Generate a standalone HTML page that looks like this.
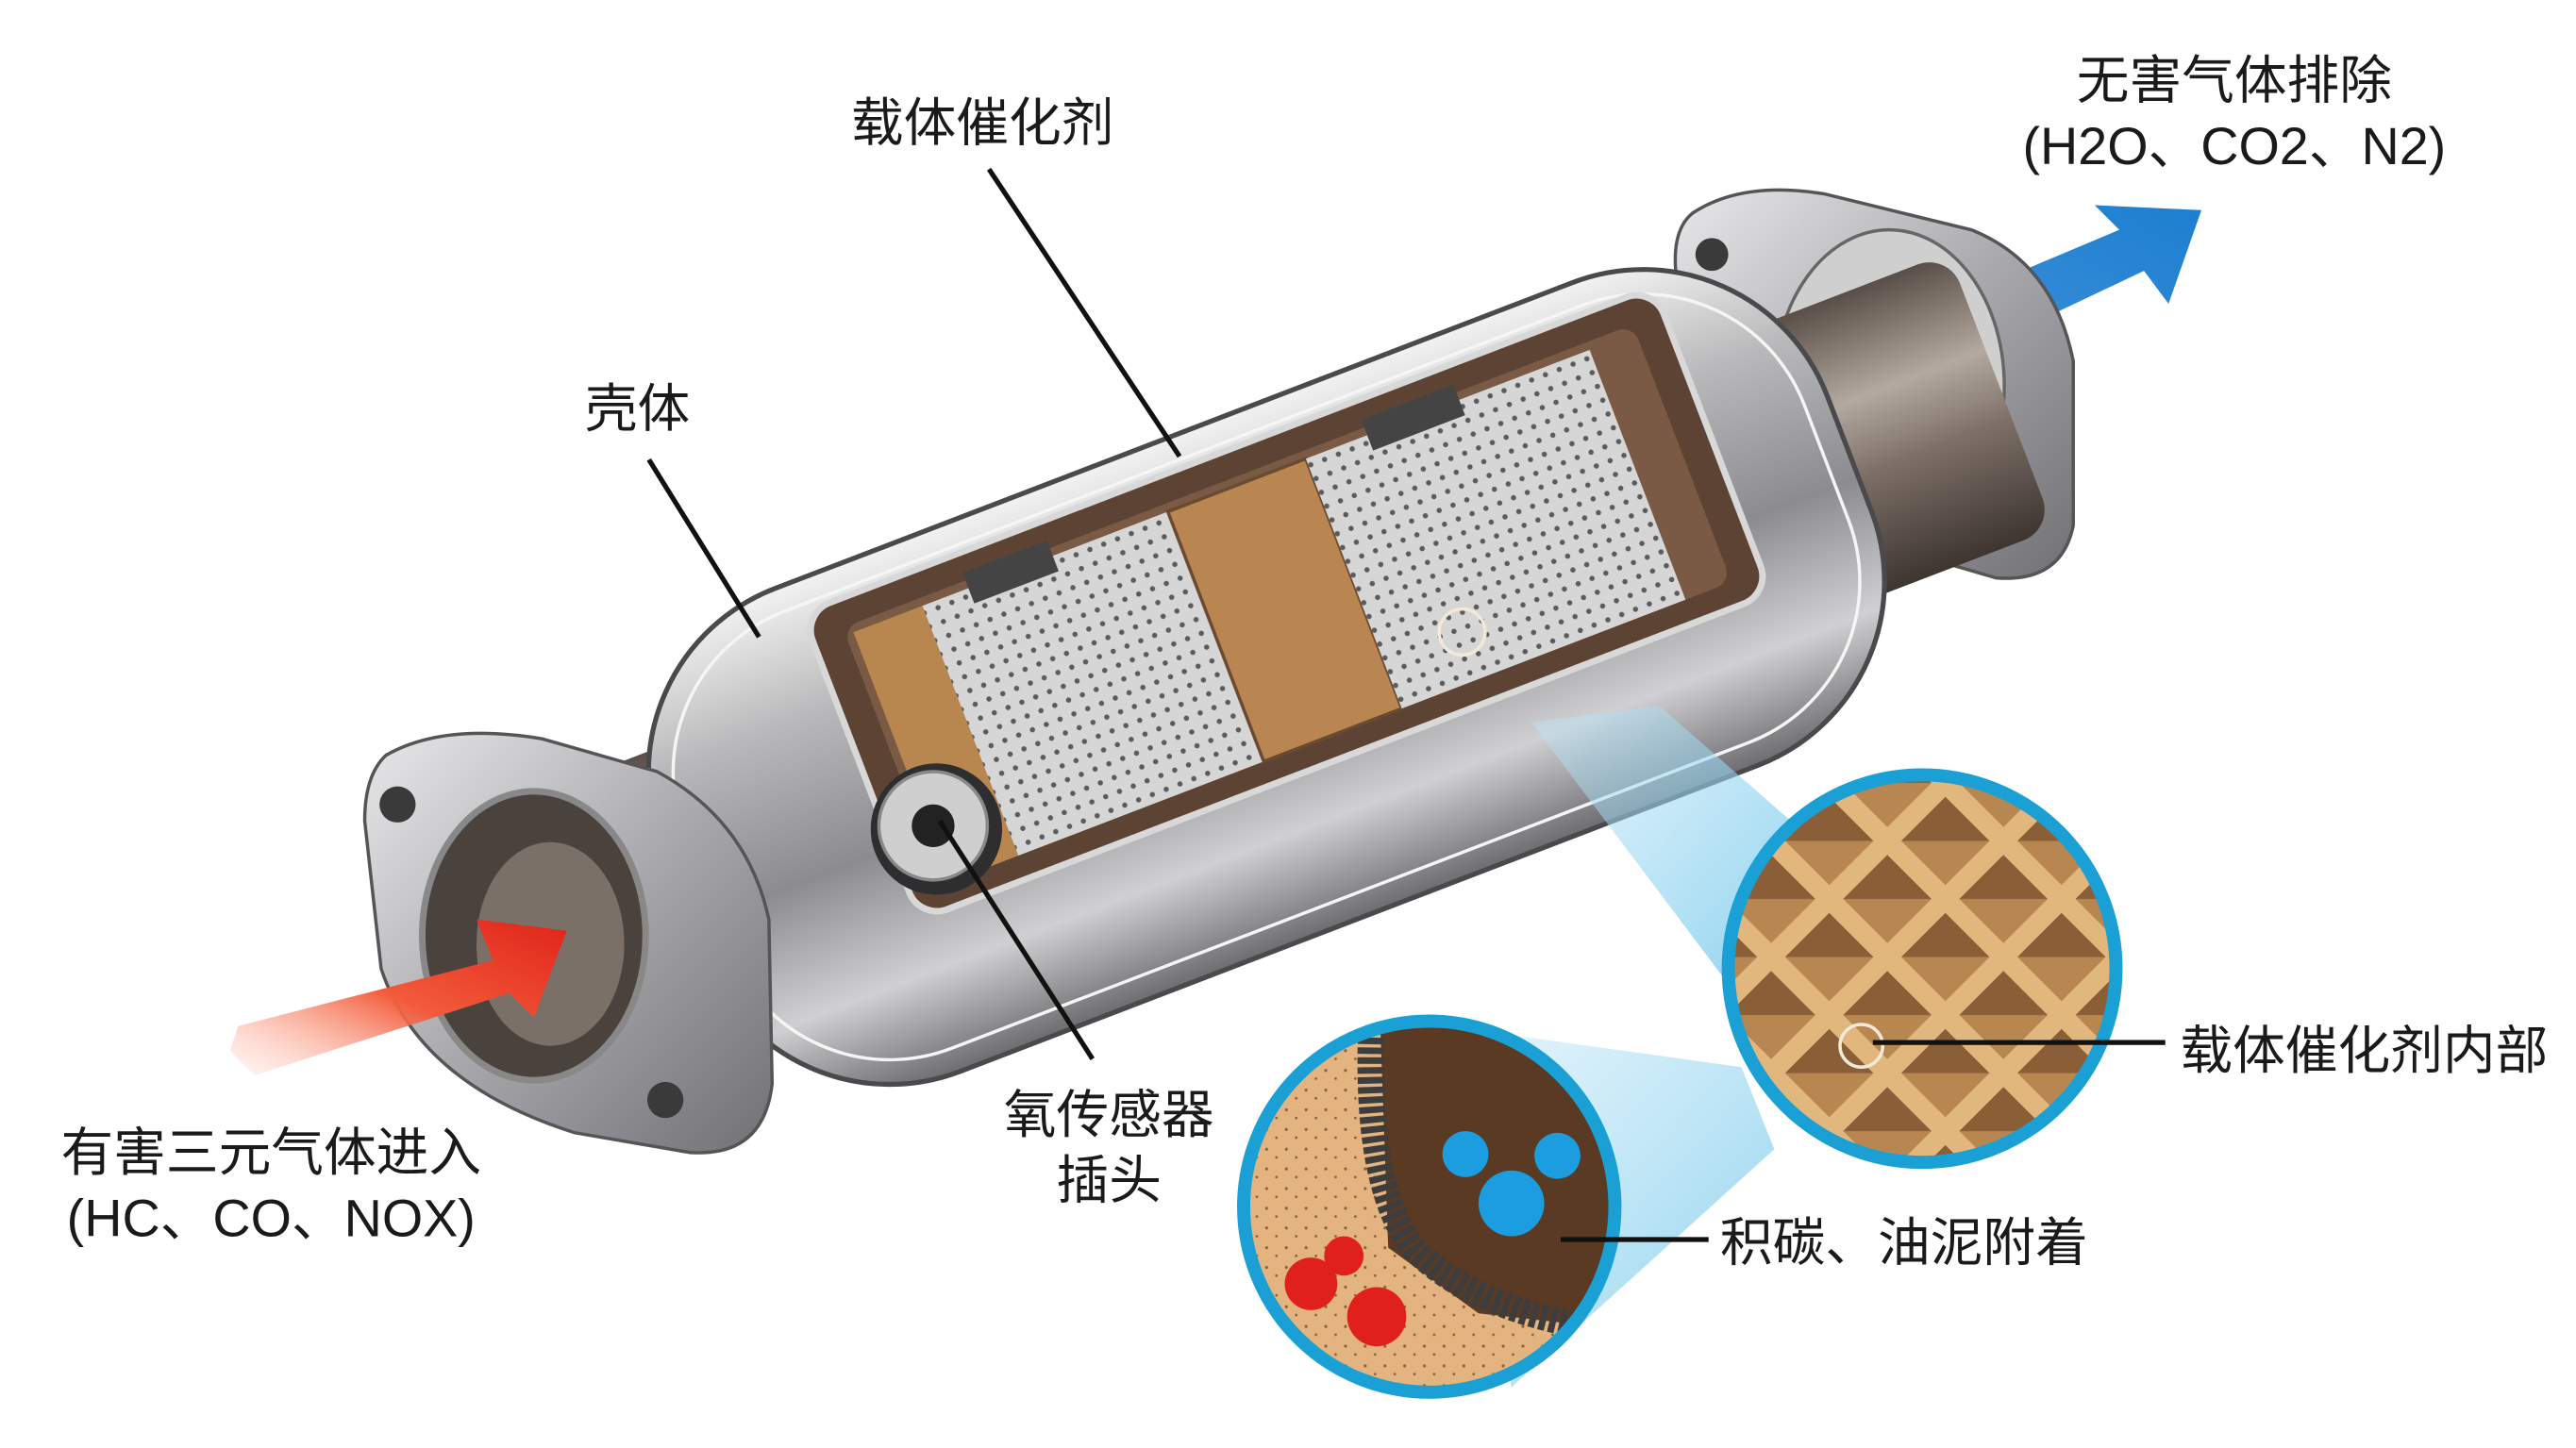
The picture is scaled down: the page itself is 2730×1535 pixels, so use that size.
<!DOCTYPE html>
<html><head><meta charset="utf-8"><style>
html,body{margin:0;padding:0;background:#fff;}
svg{display:block}
text{font-family:"Liberation Sans","Noto Sans CJK SC",sans-serif;fill:#1a1a1a;}
</style></head><body>
<svg width="2730" height="1535" viewBox="0 0 1568 882" preserveAspectRatio="none" xmlns="http://www.w3.org/2000/svg">
<defs>
<linearGradient id="metal" x1="0" y1="0" x2="0" y2="1">
<stop offset="0" stop-color="#f2f2f2"/><stop offset="0.25" stop-color="#b9b9bb"/><stop offset="0.55" stop-color="#8c8c90"/><stop offset="0.8" stop-color="#d0d0d2"/><stop offset="1" stop-color="#6d6d70"/></linearGradient>
<linearGradient id="pipe" x1="0" y1="0" x2="0" y2="1">
<stop offset="0" stop-color="#5a4f48"/><stop offset="0.35" stop-color="#b3a9a0"/><stop offset="0.6" stop-color="#7d7068"/><stop offset="1" stop-color="#3e3530"/></linearGradient>
<linearGradient id="flange" x1="0" y1="0" x2="1" y2="1">
<stop offset="0" stop-color="#e8e8ea"/><stop offset="0.5" stop-color="#a9a9ad"/><stop offset="1" stop-color="#717175"/></linearGradient>
<linearGradient id="red" x1="0" y1="1" x2="1" y2="0">
<stop offset="0" stop-color="#ffd0c0" stop-opacity="0.2"/><stop offset="0.5" stop-color="#f25a3a"/><stop offset="1" stop-color="#e0241a"/></linearGradient>
<linearGradient id="blue" x1="0" y1="1" x2="1" y2="0">
<stop offset="0" stop-color="#3a8ed8"/><stop offset="1" stop-color="#1d7fd0"/></linearGradient>
<linearGradient id="cone" x1="0" y1="0" x2="1" y2="1">
<stop offset="0" stop-color="#bfe6f7" stop-opacity="0.4"/><stop offset="1" stop-color="#6cc5ea" stop-opacity="0.8"/></linearGradient>
<pattern id="mesh" width="9" height="9" patternUnits="userSpaceOnUse">
<rect width="9" height="9" fill="#d6d6d6"/><circle cx="4.5" cy="4.5" r="1.6" fill="#5b5b5b"/></pattern>
<pattern id="honey" width="50" height="50" patternUnits="userSpaceOnUse" patternTransform="rotate(45 1170 590)">
<rect width="50" height="50" fill="#e2b77e"/><rect x="6" y="6" width="38" height="38" fill="#8a5e36"/><polygon points="6,44 44,6 44,44" fill="#b88650"/></pattern>
<pattern id="sand" width="12" height="12" patternUnits="userSpaceOnUse">
<rect width="12" height="12" fill="#e3b47f"/><circle cx="3" cy="4" r="0.9" fill="#8a6040"/><circle cx="9" cy="9" r="0.8" fill="#8a6040"/></pattern>
<clipPath id="c1"><circle cx="1170" cy="590" r="118"/></clipPath>
<clipPath id="c2"><circle cx="870" cy="735" r="113"/></clipPath>
</defs>

<polygon points="1200,200 1195,180 1290,140 1275,125 1340,128 1320,185 1305,165 1210,210" fill="url(#blue)"/>

<!-- right flange -->
<path d="M1030,130 Q1060,110 1110,118 L1200,140 Q1250,160 1262,220 L1262,320 Q1255,355 1215,352 L1140,330 Q1060,300 1035,240 L1020,165 Q1018,140 1030,130Z" fill="url(#flange)" stroke="#555" stroke-width="2"/>
<circle cx="1042" cy="155" r="10" fill="#3a3a3a"/><circle cx="1202" cy="322" r="10" fill="#3a3a3a"/>
<ellipse cx="1150" cy="235" rx="70" ry="95" fill="#cfcfcf" stroke="#666" stroke-width="2"/>

<g transform="rotate(-21 770 410)">
<rect x="1080" y="320" width="170" height="180" rx="20" fill="url(#pipe)"/>
<rect x="290" y="320" width="150" height="180" rx="20" fill="url(#pipe)"/>
<rect x="390" y="255" width="760" height="315" rx="120" fill="url(#metal)" stroke="#4a4a4c" stroke-width="3"/>
<rect x="405" y="270" width="730" height="285" rx="105" fill="none" stroke="#f5f5f5" stroke-width="2"/>
<!-- window -->
<rect x="520" y="275" width="555" height="200" rx="18" fill="#5c4333" stroke="#d8d8d8" stroke-width="4"/>
<rect x="540" y="292" width="515" height="168" rx="10" fill="#7a5a44"/>
<rect x="545" y="297" width="45" height="163" fill="#b8864f"/>
<rect x="590" y="297" width="160" height="163" fill="url(#mesh)"/>
<rect x="750" y="297" width="90" height="163" fill="#b98550" stroke="#6a4a30" stroke-width="2"/>
<rect x="840" y="297" width="185" height="163" fill="url(#mesh)"/>
<rect x="620" y="287" width="55" height="20" fill="#444"/>
<rect x="880" y="287" width="60" height="20" fill="#444"/>
</g>
<circle cx="890" cy="385" r="14" fill="none" stroke="#f2ead8" stroke-width="2"/>

<!-- left flange -->
<path d="M235,460 Q270,440 330,450 L400,470 Q455,500 468,560 L470,660 Q465,705 420,702 L350,690 Q255,660 232,590 L222,500 Q222,472 235,460Z" fill="url(#flange)" stroke="#555" stroke-width="2"/>
<circle cx="242" cy="490" r="11" fill="#3a3a3a"/><circle cx="405" cy="670" r="11" fill="#3a3a3a"/>
<ellipse cx="325" cy="570" rx="68" ry="88" fill="#4a423d" stroke="#888" stroke-width="4"/>
<ellipse cx="335" cy="575" rx="45" ry="62" fill="#7a7068"/>
<polygon points="140,640 145,625 300,585 290,560 345,567 325,620 310,605 155,655" fill="url(#red)"/>

<!-- sensor -->
<circle cx="570" cy="505" r="40" fill="#2e2e30"/>
<circle cx="568" cy="503" r="33" fill="#cfcfcf" stroke="#888" stroke-width="2"/>
<circle cx="568" cy="503" r="13" fill="#222"/>

<polygon points="932,440 1010,430 1090,500 1060,610" fill="url(#cone)"/>
<polygon points="880,625 1060,650 1080,700 920,845" fill="url(#cone)"/>

<g clip-path="url(#c1)"><rect x="1040" y="460" width="260" height="260" fill="url(#honey)"/></g>
<circle cx="1170" cy="590" r="118" fill="none" stroke="#1aa0d4" stroke-width="8"/>
<circle cx="1133" cy="637" r="13" fill="none" stroke="#f2ead8" stroke-width="2"/>

<g clip-path="url(#c2)">
<rect x="750" y="615" width="240" height="240" fill="url(#sand)"/>
<polygon points="840,620 990,620 990,810 900,800 845,760" fill="#5a3a22"/>
<path d="M835,620 Q830,720 860,760 Q900,800 980,810" fill="none" stroke="#3d3d3d" stroke-width="16" stroke-dasharray="4 2"/>
<circle cx="920" cy="733" r="20" fill="#1b9de0"/><circle cx="892" cy="703" r="14" fill="#1b9de0"/><circle cx="948" cy="704" r="14" fill="#1b9de0"/>
<circle cx="798" cy="782" r="16" fill="#e0201a"/><circle cx="818" cy="765" r="12" fill="#e0201a"/><circle cx="838" cy="802" r="18" fill="#e0201a"/>
</g>
<circle cx="870" cy="735" r="113" fill="none" stroke="#1aa0d4" stroke-width="8"/>

<g stroke="#111" stroke-width="3">
<line x1="602" y1="103" x2="718" y2="278"/>
<line x1="395" y1="280" x2="462" y2="388"/>
<line x1="572" y1="500" x2="665" y2="645"/>
<line x1="1140" y1="635" x2="1318" y2="635"/>
<line x1="950" y1="755" x2="1040" y2="755"/>
</g>

<g font-size="32">
<text x="598" y="86" text-anchor="middle">载体催化剂</text>
<text x="388" y="260" text-anchor="middle">壳体</text>
<text x="1360" y="60" text-anchor="middle">无害气体排除</text>
<text x="1360" y="100" text-anchor="middle">(H2O、CO2、N2)</text>
<text x="165" y="713" text-anchor="middle">有害三元气体进入</text>
<text x="165" y="753" text-anchor="middle">(HC、CO、NOX)</text>
<text x="675" y="690" text-anchor="middle">氧传感器</text>
<text x="675" y="730" text-anchor="middle">插头</text>
<text x="1327" y="651">载体催化剂内部</text>
<text x="1047" y="768">积碳、油泥附着</text>
</g>
</svg>
</body></html>
